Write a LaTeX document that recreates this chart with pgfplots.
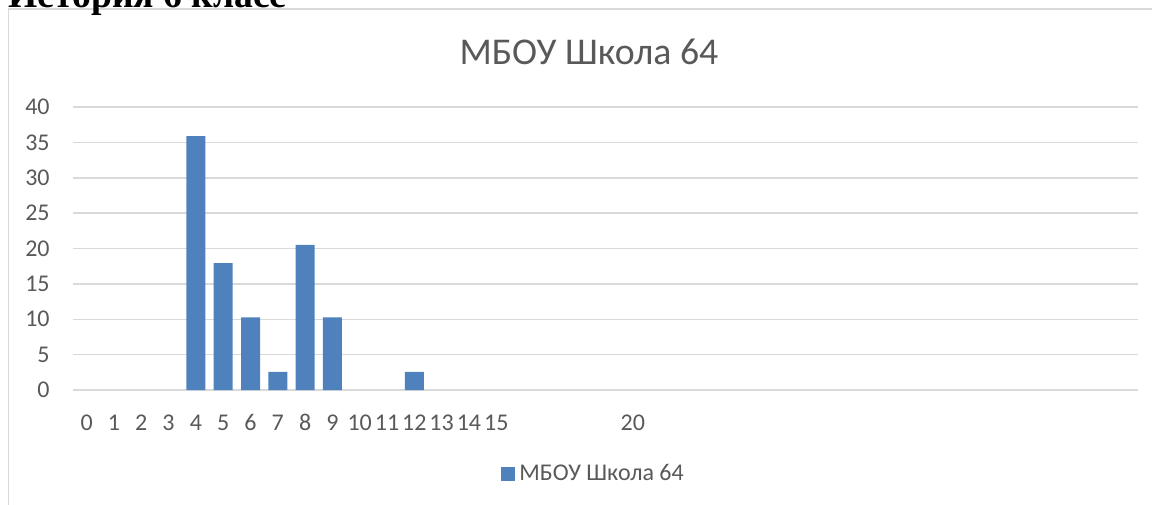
\documentclass[border=0pt]{standalone}
\usepackage{fontspec}
\setmainfont{Carlito}
\newfontfamily\serifb{Liberation Serif}
\usepackage{pgfplots}
\pgfplotsset{compat=1.18}
\definecolor{barblue}{HTML}{4F81BD}
\definecolor{gridgray}{HTML}{D9D9D9}
\definecolor{txt}{HTML}{595959}
\begin{document}
\begin{tikzpicture}
\useasboundingbox (0,0) rectangle (576pt,-252pt);
\draw[gridgray, line width=0.75pt] (4.25pt,-300pt) -- (4.25pt,-4.5pt) -- (600pt,-4.5pt);
\node[anchor=base west, inner sep=0pt, font=\serifb\bfseries\fontsize{18.8}{22}\selectfont] at (4pt,-3.5pt) {История 6 класс};
\node[anchor=base, inner sep=0pt, text=txt, font=\fontsize{18.9}{22}\selectfont] at (294.5pt,-32pt) {МБОУ Школа 64};
\begin{axis}[at={(36.5pt,-195pt)}, anchor=south west, scale only axis,
  width=532.5pt, height=141.5pt,
  xmin=-0.5, xmax=38.5, ymin=0, ymax=40,
  xtick={0,1,2,3,4,5,6,7,8,9,10,11,12,13,14,15,20},
  xticklabels={0,1,2,3,4,5,6,7,8,9,10,11,12,13,14,15,20},
  ytick={0,5,10,15,20,25,30,35,40},
  yticklabels={0,5,10,15,20,25,30,35,40},
  axis line style={draw=none}, major tick length=0pt,
  ymajorgrids, grid style={gridgray, line width=0.75pt},
  tick label style={font=\fontsize{12}{14}\selectfont, text=txt},
  xticklabel style={anchor=base, yshift=-20pt, inner sep=0pt},
  yticklabel style={anchor=east, inner sep=0pt, xshift=-11.5pt},
  ybar, bar width=9.5pt,
  legend style={draw=none, fill=none, inner sep=0pt, font=\fontsize{12}{14}\selectfont, text=txt,
    at={(axis description cs:0.4019,-0.2968)}, anchor=west},
  legend image code/.code={\fill[barblue] (0pt,-3.5pt) rectangle (7pt,3.5pt);},
]
\addplot[fill=barblue, draw=none] coordinates {(4,35.9) (5,17.95) (6,10.26) (7,2.56) (8,20.51) (9,10.26) (12,2.56)};
\addlegendentry{МБОУ Школа 64}
\end{axis}
\end{tikzpicture}
\end{document}
